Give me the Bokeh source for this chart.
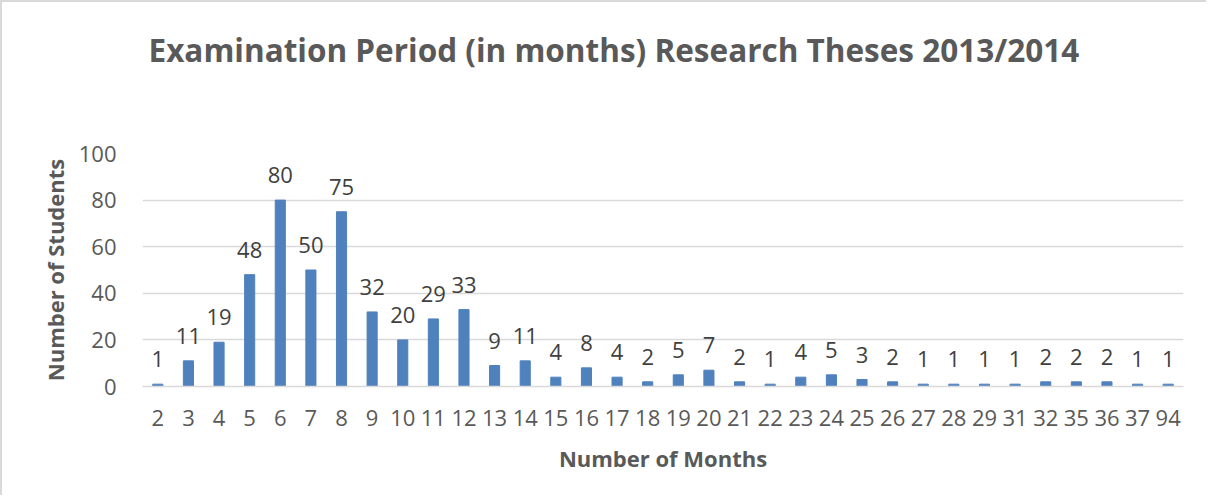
from bokeh.plotting import figure
from bokeh.models import Range1d, FixedTicker, ColumnDataSource, Title
from bokeh.core.properties import value
from bokeh.embed import file_html
from bokeh.resources import INLINE

months = ["2", "3", "4", "5", "6", "7", "8", "9", "10", "11", "12", "13", "14", "15", "16",
          "17", "18", "19", "20", "21", "22", "23", "24", "25", "26", "27", "28", "29", "31",
          "32", "35", "36", "37", "94"]
students = [1, 11, 19, 48, 80, 50, 75, 32, 20, 29, 33, 9, 11, 4, 8, 4, 2, 5, 7, 2, 1, 4, 5, 3,
            2, 1, 1, 1, 1, 2, 2, 2, 1, 1]
y_ticks = [0, 20, 40, 60, 80, 100]

title_text = "Examination Period (in months) Research Theses 2013/2014"
x_title = "Number of Months"
y_title = "Number of Students"

FONT = "Open Sans"
GRAY = "#595959"

src = ColumnDataSource(dict(x=months, top=students, lab=[str(v) for v in students]))

p = figure(x_range=months, y_range=Range1d(0, 100), width=1206, height=495,
           output_backend="svg", toolbar_location=None,
           min_border_left=140, min_border_right=25, min_border_top=151, min_border_bottom=111)
p.outline_line_color = None
p.background_fill_color = "white"
p.border_fill_color = "white"
p.title_location = None

# spacer nearest the frame, then the real title above it
p.add_layout(Title(text=" ", text_font_size="2px", standoff=74), "above")
p.add_layout(Title(text=title_text, align="left", offset=6, text_font=FONT,
                   text_font_size="31.5px", text_font_style="bold", text_color=GRAY), "above")

p.vbar(x="x", top="top", width=0.33, source=src, color="#4f81bd")
p.text(x="x", y="top", text="lab", source=src, text_align="center", text_baseline="bottom",
       y_offset=-17, text_font=value(FONT), text_font_size="22px", text_color="#404040")

p.xgrid.grid_line_color = None
p.ygrid.grid_line_color = "#d9d9d9"
p.ygrid.grid_line_width = 1.3
p.yaxis.ticker = FixedTicker(ticks=y_ticks)

for ax in (p.xaxis[0], p.yaxis[0]):
    ax.major_tick_line_color = None
    ax.minor_tick_line_color = None
    ax.major_label_text_font = FONT
    ax.major_label_text_font_size = "22px"
    ax.major_label_text_color = GRAY
    ax.axis_label_text_font = FONT
    ax.axis_label_text_font_size = "22px"
    ax.axis_label_text_font_style = "bold"
    ax.axis_label_text_color = GRAY

p.yaxis.axis_line_color = None
p.xaxis.axis_line_color = "#d9d9d9"
p.xaxis.axis_line_width = 1.3
p.xaxis.major_label_standoff = 17
p.yaxis.major_label_standoff = 20
p.xaxis.axis_label = x_title
p.yaxis.axis_label = y_title
p.xaxis.axis_label_standoff = 14
p.yaxis.axis_label_standoff = 6

p.styles = {"border-top": "2px solid #d9d9d9", "border-left": "2px solid #d9d9d9"}

open("out.html", "w").write(file_html(p, INLINE))
